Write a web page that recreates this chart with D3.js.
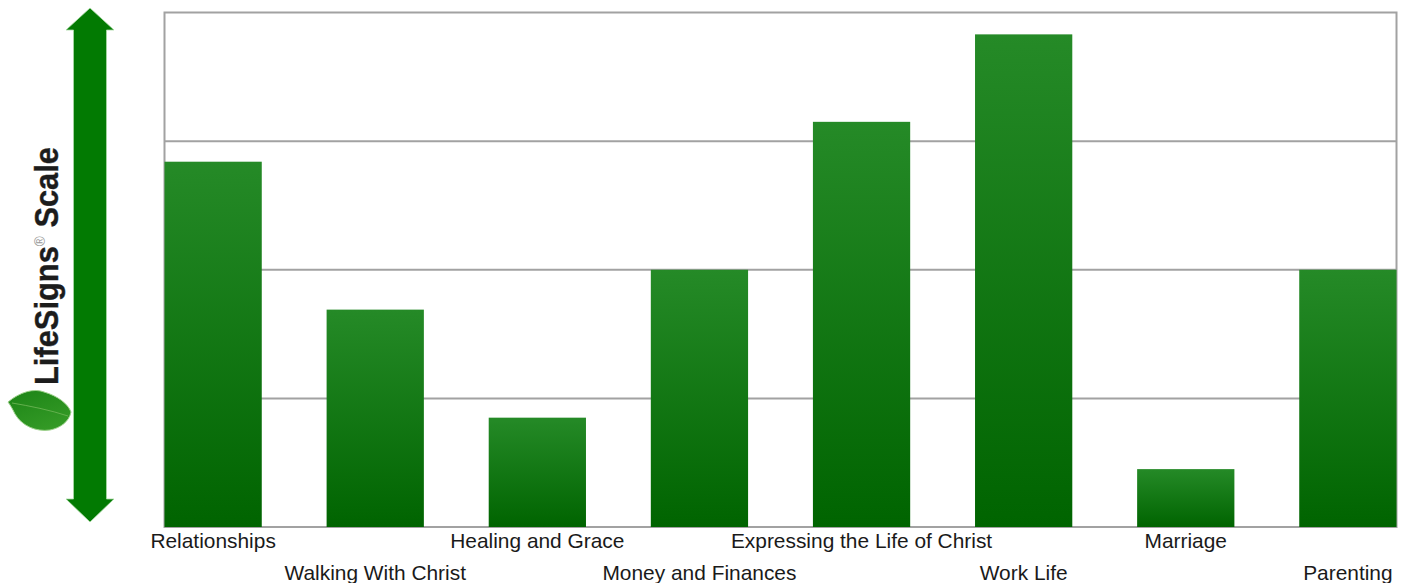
<!DOCTYPE html>
<html>
<head>
<meta charset="utf-8">
<script src="https://cdn.jsdelivr.net/npm/d3@7"></script>
<style>
html,body{margin:0;padding:0;background:#fff;overflow:hidden}
svg{display:block}
text{font-family:"Liberation Sans",Arial,sans-serif}
</style>
</head>
<body>
<svg id="chart" width="1402" height="583"></svg>
<script>
const categories = ["Relationships","Walking With Christ","Healing and Grace","Money and Finances","Expressing the Life of Christ","Work Life","Marriage","Parenting"];
const scores = [2.84,1.69,0.85,2.0,3.15,3.83,0.45,2.0];
const gridValues = [1,2,3];

const svg = d3.select("#chart");
const plot = {left:164.5,right:1396.5,top:12.5,bottom:527};

const x = d3.scaleBand().domain(categories).range([plot.left,plot.right]).paddingInner(0.4).paddingOuter(0);
const y = d3.scaleLinear().domain([0,4]).range([plot.bottom,plot.top]);

const defs = svg.append("defs");
const barFill = defs.append("linearGradient").attr("id","barFill").attr("x1",0).attr("y1",0).attr("x2",0).attr("y2",1);
barFill.append("stop").attr("offset",0).attr("stop-color","#258a27");
barFill.append("stop").attr("offset",1).attr("stop-color","#006400");
const leafFill = defs.append("linearGradient").attr("id","leafFill").attr("x1",0).attr("y1",0).attr("x2",0.6).attr("y2",1);
leafFill.append("stop").attr("offset",0).attr("stop-color","#1c8416");
leafFill.append("stop").attr("offset",1).attr("stop-color","#349a26");

// Frame and horizontal gridlines
svg.append("rect")
  .attr("x",plot.left).attr("y",plot.top)
  .attr("width",plot.right-plot.left).attr("height",plot.bottom-plot.top)
  .attr("fill","#fff").attr("stroke","#a2a2a2").attr("stroke-width",2);

svg.append("g").selectAll("line").data(gridValues).join("line")
  .attr("x1",plot.left).attr("x2",plot.right)
  .attr("y1",d=>y(d)).attr("y2",d=>y(d))
  .attr("stroke","#a2a2a2").attr("stroke-width",2);

// Bars
svg.append("g").selectAll("rect").data(categories).join("rect")
  .attr("x",d=>x(d)).attr("width",x.bandwidth())
  .attr("y",(d,i)=>y(scores[i]))
  .attr("height",(d,i)=>y(0)-y(scores[i]))
  .attr("fill","url(#barFill)");

// Category labels, staggered over two rows
svg.append("g").selectAll("text").data(categories).join("text")
  .attr("x",d=>x(d)+x.bandwidth()/2)
  .attr("y",(d,i)=>i%2===0?548:580)
  .attr("text-anchor","middle")
  .attr("font-size",20.9)
  .attr("fill","#1a1a1a")
  .text(d=>d);

// Double-headed scale arrow
const arrowLine = d3.line();
svg.append("path")
  .attr("d",arrowLine([[90,8],[114,30],[106.5,30],[106.5,499],[114,499],[90,522],[66,499],[73.5,499],[73.5,30],[66,30]])+"Z")
  .attr("fill","#027a02")
  .attr("stroke","#a9dba5").attr("stroke-width",0.8);

// Leaf emblem
const leaf = svg.append("g");
leaf.append("path")
  .attr("d","M8,402 C20,392 34,388 44,392 C58,396 68,404 71,412 C69,422 60,428 50,430 C36,432 22,426 15,414 C13,410 11,406 8,402Z")
  .attr("fill","url(#leafFill)")
  .attr("stroke","#9ed28c").attr("stroke-width",1);
leaf.append("path")
  .attr("d","M12,403 C30,406 50,410 68,416")
  .attr("fill","none").attr("stroke","#63b04d").attr("stroke-width",1);

// Rotated scale title
const title = svg.append("text")
  .attr("transform","translate(57.5,385) rotate(-90)")
  .attr("font-size",34).attr("font-weight","bold").attr("fill","#1c1c1c")
  .attr("stroke","#1c1c1c").attr("stroke-width",0.4)
  .attr("textLength",238).attr("lengthAdjust","spacingAndGlyphs");
title.append("tspan").text("LifeSigns");
title.append("tspan").attr("font-size",15).attr("font-weight","normal").attr("fill","#999").attr("stroke","none").attr("dy",-13).text("®");
title.append("tspan").attr("dy",13).text(" Scale");
</script>
</body>
</html>
